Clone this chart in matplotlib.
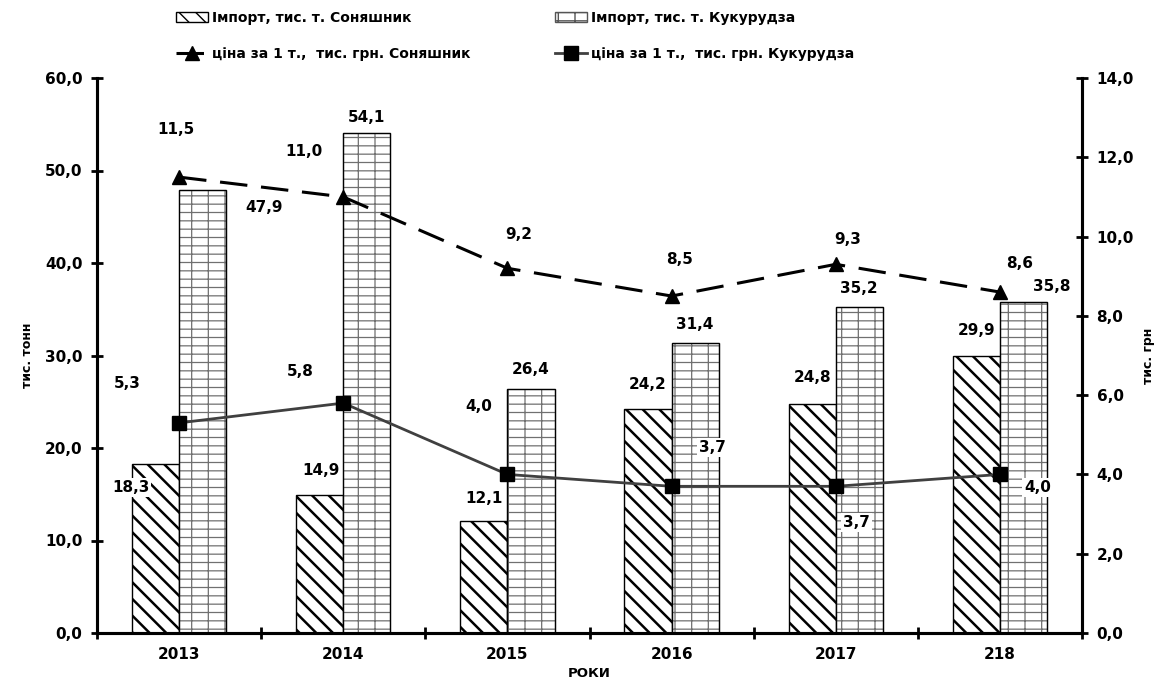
import matplotlib
matplotlib.use("Agg")
import matplotlib.pyplot as plt
from matplotlib.patches import Patch
import numpy as np

years = ["2013", "2014", "2015", "2016", "2017", "218"]
import_sun = [18.3, 14.9, 12.1, 24.2, 24.8, 29.9]
import_corn = [47.9, 54.1, 26.4, 31.4, 35.2, 35.8]
price_sun = [11.5, 11.0, 9.2, 8.5, 9.3, 8.6]
price_corn = [5.3, 5.8, 4.0, 3.7, 3.7, 4.0]

# label offsets in pixels (dx, dy)
off_import_sun = [(-25, -24), (1, 25), (0, 23), (0, 25), (0, 26), (0, 26)]
off_import_corn = [(61, -18), (0, 15), (0, 19), (0, 18), (0, 19), (28, 15)]
off_price_sun = [(-3, 48), (-39, 45), (11, 34), (8, 37), (12, 25), (20, 29)]
off_price_corn = [(-52, 39), (-43, 32), (-29, 68), (41, 39), (21, -36), (38, -13)]

plt.rcParams['font.family'] = ['DejaVu Sans']
plt.rcParams['font.weight'] = 'bold'

SUN_HATCH = "\\\\"
CORN_HATCH = "--|"


def fmt(v):
    return f"{v:.1f}".replace(".", ",")


fig = plt.figure(figsize=(11.69, 6.84), dpi=100)
ax = fig.add_axes([97 / 1169, 51 / 684, 985 / 1169, 555 / 684])
ax2 = ax.twinx()

x = np.arange(len(years))
w = 0.287

with plt.rc_context({'hatch.linewidth': 1.8}):
    ax.bar(x - w / 2, import_sun, w, color="white", edgecolor="black",
           hatch=SUN_HATCH, linewidth=1.0, zorder=2)
with plt.rc_context({'hatch.linewidth': 0.9}):
    ax.bar(x + w / 2, import_corn, w, color="white", edgecolor="#707070",
           hatch=CORN_HATCH, linewidth=0.8, zorder=2)
ax.bar(x + w / 2, import_corn, w, fill=False, edgecolor="black",
       linewidth=1.0, zorder=2)

l1, = ax2.plot(x, price_sun, color="black", lw=2.2, dashes=(9, 4.5),
               marker="^", markersize=10, zorder=3)
l2, = ax2.plot(x, price_corn, color="#404040", lw=2.0,
               marker="s", markersize=10, markerfacecolor="black",
               markeredgecolor="black", zorder=3)

box = dict(facecolor="white", edgecolor="none", pad=1.5)
lab = dict(textcoords="offset pixels", ha="center", va="center",
           fontsize=11, fontweight="bold", bbox=box, zorder=5)
for i in range(len(years)):
    ax.annotate(fmt(import_sun[i]), (x[i] - w / 2, import_sun[i]),
                xytext=off_import_sun[i], **lab)
    ax.annotate(fmt(import_corn[i]), (x[i] + w / 2, import_corn[i]),
                xytext=off_import_corn[i], **lab)
    ax2.annotate(fmt(price_sun[i]), (x[i], price_sun[i]),
                 xytext=off_price_sun[i], **lab)
    ax2.annotate(fmt(price_corn[i]), (x[i], price_corn[i]),
                 xytext=off_price_corn[i], **lab)

ax.set_xlim(-0.5, len(years) - 0.5)
ax.set_ylim(0, 60)
ax2.set_ylim(0, 14)
ax.set_yticks(np.arange(0, 61, 10))
ax.set_yticklabels([fmt(v) for v in np.arange(0, 61, 10)])
ax2.set_yticks(np.arange(0, 15, 2))
ax2.set_yticklabels([fmt(v) for v in np.arange(0, 15, 2)])
ax.set_xticks(x)
ax.set_xticklabels(years)
ax.set_xticks(np.arange(-0.5, len(years), 1), minor=True)
ax.tick_params(axis="x", which="major", length=0, pad=10, labelsize=11)
ax.tick_params(axis="x", which="minor", length=9, width=2, direction="inout")
ax.tick_params(axis="y", length=9, width=2, direction="inout", pad=6,
               labelsize=11)
ax2.tick_params(axis="y", length=9, width=2, direction="inout", pad=6,
                labelsize=11)

for a in (ax, ax2):
    a.spines["top"].set_visible(False)
    for s in ("left", "right", "bottom"):
        a.spines[s].set_linewidth(2.2)

ax.set_ylabel("тис. тонн", fontsize=9, fontweight="bold", labelpad=8)
ax2.set_ylabel("тис. грн", fontsize=9, fontweight="bold", labelpad=6)
ax.set_xlabel("РОКИ", fontsize=9.5, fontweight="bold", labelpad=4)

leg_kw = dict(loc="upper left", frameon=False, handlelength=2.3,
              handletextpad=0.3, labelspacing=1.6, borderpad=0,
              borderaxespad=0, prop={"weight": "bold", "size": 10})
with plt.rc_context({'hatch.linewidth': 1.5}):
    h_sun = Patch(facecolor="white", edgecolor="black", hatch=SUN_HATCH)
with plt.rc_context({'hatch.linewidth': 0.8}):
    h_corn = Patch(facecolor="white", edgecolor="#555555", hatch=CORN_HATCH)
fig.legend([h_sun, l1],
           ["Імпорт, тис. т. Соняшник", "ціна за 1 т.,  тис. грн. Соняшник"],
           bbox_to_anchor=(176 / 1169, 1 - 11 / 684), **leg_kw)
fig.legend([h_corn, l2],
           ["Імпорт, тис. т. Кукурудза", "ціна за 1 т.,  тис. грн. Кукурудза"],
           bbox_to_anchor=(555 / 1169, 1 - 11 / 684), **leg_kw)

fig.savefig("out.png", dpi=100)
